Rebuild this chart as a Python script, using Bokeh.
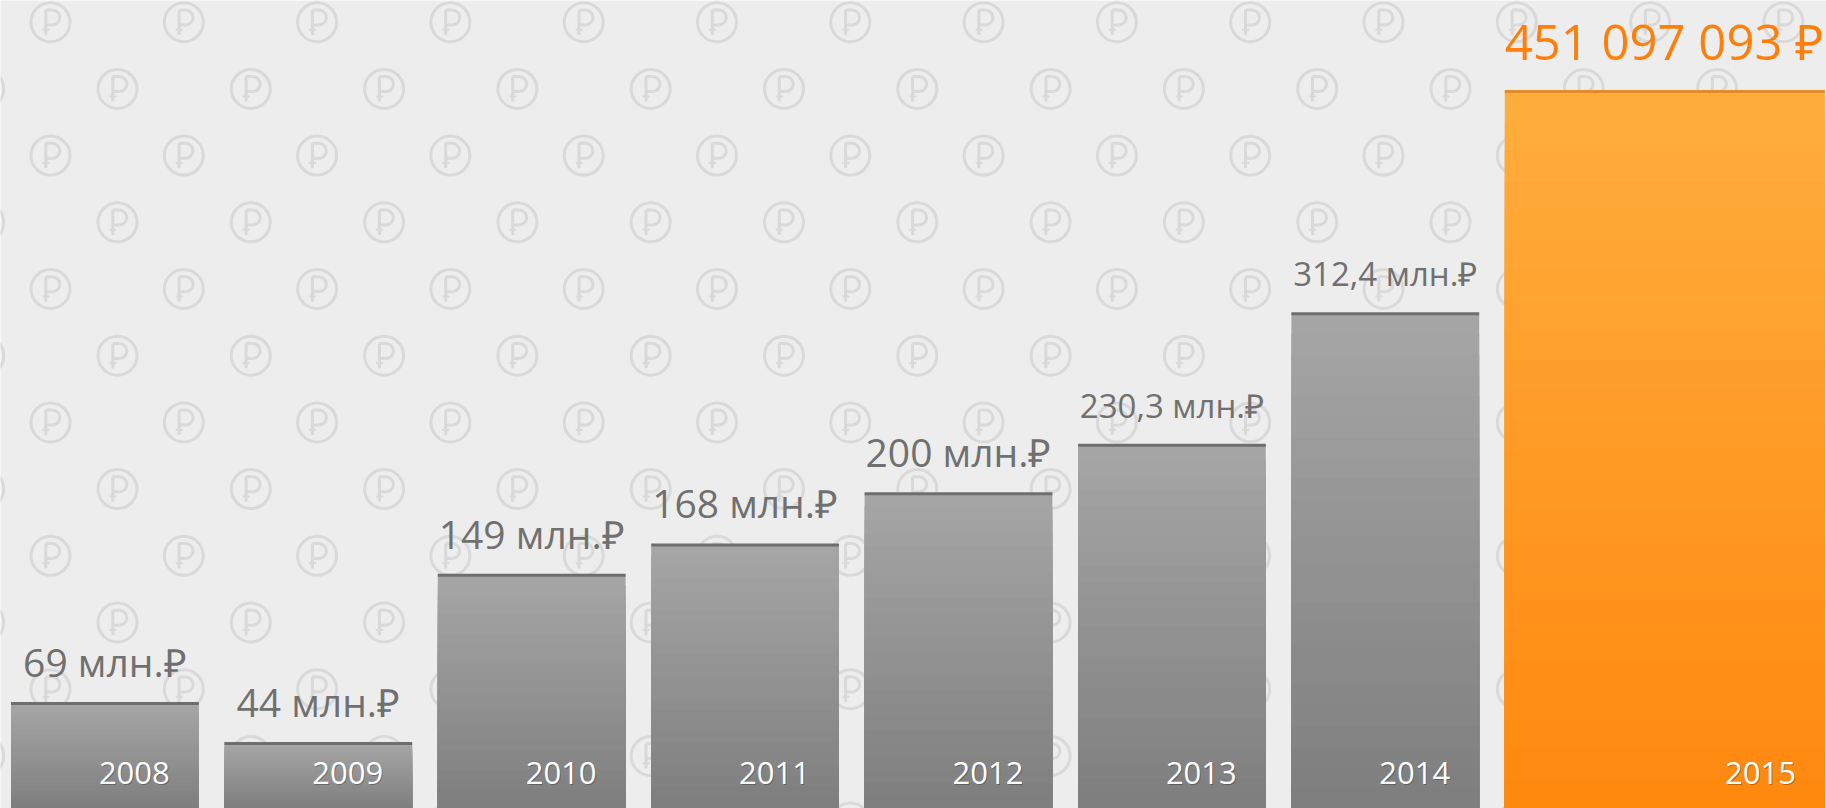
import numpy as np
from bokeh.plotting import figure
from bokeh.models import Range1d, ColumnDataSource
from bokeh.core.properties import value
from bokeh.embed import file_html
from bokeh.resources import INLINE

# ---- data ----
years = ["2008", "2009", "2010", "2011", "2012", "2013", "2014", "2015"]
amounts = [69, 44, 149, 168, 200, 230.3, 312.4, 451.097093]  # млн. ₽
labels = ["69 млн.₽", "44 млн.₽", "149 млн.₽", "168 млн.₽", "200 млн.₽",
          "230,3 млн.₽", "312,4 млн.₽", "451 097 093 ₽"]

# ---- layout / style ----
W, H = 1826, 808
PITCH = 213.4          # px per slot
BAR_W = 0.88           # slot units
LAST_W = 1.5
S = 1.6016             # px per million
x0 = -(10.5 + BAR_W * PITCH / 2) / PITCH
y0 = 3.44              # axis floor sits slightly below the frame

p = figure(width=W, height=H, output_backend="svg", toolbar_location=None,
           x_range=Range1d(x0, x0 + W / PITCH), y_range=Range1d(y0, y0 + H / S),
           min_border=0, background_fill_color="#ededed", border_fill_color="#ededed",
           outline_line_color=None)
p.xaxis.visible = False
p.yaxis.visible = False
p.grid.visible = False
p.extra_x_ranges = {"px": Range1d(0, W)}
p.extra_y_ranges = {"px": Range1d(H, 0)}

# ---- background ruble pattern (decoration, drawn in pixel space) ----
PC = "#d9d9d9"
cx, cy = [], []
for r in range(13):
    yy = 21.7 + 66.7 * r
    off = 50 if r % 2 == 0 else 117
    for k in range(-1, 15):
        cx.append(off + 133.3 * k)
        cy.append(yy)
cx = np.array(cx); cy = np.array(cy)
kw = dict(x_range_name="px", y_range_name="px", line_color=PC, line_width=3)
p.scatter(cx, cy, marker="circle", size=39, fill_color=None, **kw)
p.segment(x0=cx - 4.7, y0=cy - 12.3, x1=cx - 4.7, y1=cy + 12.7, **kw)
p.segment(x0=cx - 4.7, y0=cy - 12.3, x1=cx + 1.8, y1=cy - 12.3, **kw)
p.segment(x0=cx - 4.7, y0=cy + 2.7, x1=cx + 1.8, y1=cy + 2.7, **kw)
p.arc(x=cx + 1.8, y=cy - 4.8, radius=7.5, start_angle=-np.pi / 2, end_angle=np.pi / 2, **kw)
kw2 = dict(kw); kw2["line_width"] = 2
p.segment(x0=cx - 8, y0=cy + 7.5, x1=cx - 1, y1=cy + 7.5, **kw2)

# ---- bars as overlapping gradient bands ----
n = len(years)
xs = np.arange(n, dtype=float)
widths = [BAR_W] * (n - 1) + [LAST_W]
lefts = xs - BAR_W / 2
rights = lefts + np.array(widths)

def hexc(c):
    return "#%02x%02x%02x" % tuple(int(round(v)) for v in c)

grey_top, grey_bot = np.array([0xa6, 0xa6, 0xa6]), np.array([0x7e, 0x7e, 0x7e])
org_top, org_bot = np.array([0xff, 0xae, 0x3e]), np.array([0xff, 0x88, 0x0e])
NB = 24
ql, qr, qb, qt, qc = [], [], [], [], []
for j in range(NB - 1, -1, -1):
    for i in range(n):
        v = amounts[i]
        top_c, bot_c = (org_top, org_bot) if i == n - 1 else (grey_top, grey_bot)
        ql.append(lefts[i]); qr.append(rights[i])
        qb.append(0)
        qt.append(y0 + (v - y0) * (j + 1) / NB)
        t = (j + 0.5) / NB
        qc.append(hexc(bot_c + (top_c - bot_c) * t))
p.quad(left=ql, right=qr, bottom=qb, top=qt, fill_color=qc, line_color=None)

border_cols = ["#6e6e6e"] * (n - 1) + ["#e48a26"]
p.segment(x0=lefts, x1=rights, y0=amounts, y1=amounts, line_color=border_cols, line_width=3)

# ---- value labels ----
big_i = [i for i in range(n - 1) if "," not in labels[i]]
dec_i = [i for i in range(n - 1) if "," in labels[i]]
for idx, fs, yo in ((big_i, "39px", -42), (dec_i, "33px", -40)):
    src = ColumnDataSource(dict(x=xs[idx], y=[amounts[i] for i in idx], t=[labels[i] for i in idx]))
    p.text(x="x", y="y", text="t", source=src, text_align="center",
           text_baseline="alphabetic", y_offset=yo, text_color="#707070",
           text_font=value("Open Sans"), text_font_size=fs)
p.text(x=[lefts[-1]], y=[amounts[-1]], text=[labels[-1]], text_align="left",
       text_baseline="alphabetic", x_offset=0, y_offset=-51, text_color="#ff7f0a",
       text_font=value("Open Sans"), text_font_size="49px")

# ---- year labels inside bars ----
p.text(x=rights, y=[y0] * n, text=years, text_align="right", text_baseline="alphabetic",
       x_offset=-28, y_offset=-35, text_color="#000000", text_alpha=0.25,
       text_font=value("Open Sans"), text_font_size="31px")
p.text(x=rights, y=[y0] * n, text=years, text_align="right", text_baseline="alphabetic",
       x_offset=-29, y_offset=-36, text_color="#ffffff",
       text_font=value("Open Sans"), text_font_size="31px")

open("out.html", "w").write(file_html(p, INLINE))
